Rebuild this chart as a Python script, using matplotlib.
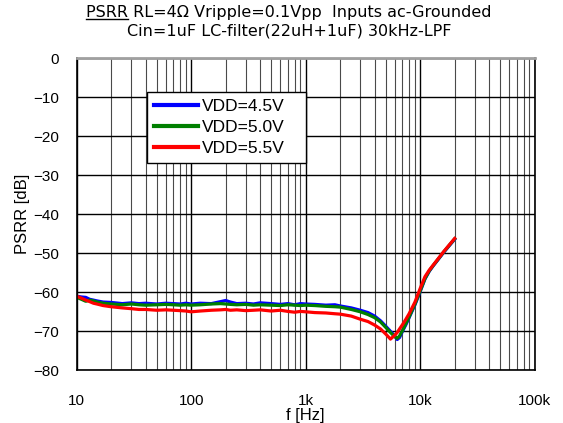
import numpy as np
import matplotlib
matplotlib.use("Agg")
import matplotlib.pyplot as plt
from matplotlib.ticker import FixedLocator, FixedFormatter, NullFormatter
from matplotlib.lines import Line2D

# ---------------- data ----------------
freq = [10, 11, 12, 13, 14, 15, 17, 20, 25, 30, 35, 40, 50, 60, 70, 80, 90, 100,
        120, 150, 180, 200, 220, 250, 300, 350, 400, 500, 600, 700, 800, 900, 1000,
        1200, 1500, 1800, 2000, 2500, 3000, 3500, 4000, 4500, 5000, 5500, 6000,
        6300, 6600, 7000, 7500, 8000, 9000, 10000, 11000, 12000, 13000, 14000,
        16000, 18000, 20000]

psrr_45 = [-61.0, -61.2, -61.3, -61.8, -62.0, -62.2, -62.5, -62.6, -62.9, -62.7, -62.9,
           -62.8, -63.0, -62.8, -62.9, -63.0, -62.8, -63.0, -62.8, -62.9, -62.4, -62.1,
           -62.5, -62.9, -62.8, -63.0, -62.7, -62.9, -63.1, -62.9, -63.2, -62.9, -63.0,
           -63.1, -63.3, -63.2, -63.5, -64.0, -64.6, -65.2, -66.1, -67.3, -68.7, -70.0,
           -71.2, -72.1, -71.6, -70.0, -68.3, -66.5, -63.2, -59.8, -56.6, -54.6, -53.2,
           -52.0, -49.8, -48.0, -46.4]

psrr_50 = [-61.3, -61.8, -62.3, -62.0, -62.2, -62.5, -62.8, -63.0, -63.2, -63.0, -63.2,
           -63.3, -63.2, -63.1, -63.2, -63.3, -63.2, -63.3, -63.2, -63.0, -62.9, -63.0,
           -63.1, -63.2, -63.1, -63.3, -63.2, -63.3, -63.4, -63.2, -63.3, -63.4, -63.3,
           -63.4, -63.6, -63.7, -63.8, -64.4, -65.0, -65.7, -66.5, -67.6, -69.0, -70.3,
           -71.4, -71.8, -71.2, -69.8, -68.0, -66.3, -63.0, -59.6, -56.5, -54.5, -53.1,
           -51.9, -49.7, -47.9, -46.3]

psrr_55 = [-61.0, -61.5, -62.0, -62.4, -62.8, -63.0, -63.4, -63.7, -64.0, -64.2, -64.4,
           -64.4, -64.6, -64.5, -64.6, -64.7, -64.8, -65.0, -64.8, -64.6, -64.5, -64.4,
           -64.6, -64.5, -64.7, -64.6, -64.5, -64.8, -64.6, -64.9, -65.1, -64.9, -65.0,
           -65.2, -65.3, -65.5, -65.6, -66.1, -66.9, -67.5, -68.4, -69.4, -70.7, -72.0,
           -71.0, -70.3, -69.4, -68.3, -66.9, -65.5, -62.5, -59.0, -56.0, -54.3, -53.0,
           -51.8, -49.6, -47.8, -46.2]

series_labels = ["VDD=4.5V", "VDD=5.0V", "VDD=5.5V"]
series_colors = ["#0000FF", "#008000", "#FF0000"]

x_major = [10, 100, 1000, 10000, 100000]
x_major_labels = ["10", "100", "1k", "10k", "100k"]
y_ticks = [0, -10, -20, -30, -40, -50, -60, -70, -80]
y_tick_labels = ["0", "\u221210", "\u221220", "\u221230", "\u221240", "\u221250",
                 "\u221260", "\u221270", "\u221280"]

title_line1 = "PSRR RL=4\u03a9 Vripple=0.1Vpp  Inputs ac-Grounded"
title_underlined = "PSRR"
title_line2 = "Cin=1uF LC-filter(22uH+1uF) 30kHz-LPF"

# ---------------- figure ----------------
plt.rcParams['font.family'] = ['Liberation Sans', 'DejaVu Sans']
W, H = 563, 423
fig = plt.figure(figsize=(W / 100, H / 100), dpi=100)
ax = fig.add_axes([76.7 / W, 1 - 370.3 / H, (534.7 - 76.7) / W, (370.3 - 58.3) / H])

ax.set_xscale('log')
ax.set_xlim(10, 100000)
ax.set_ylim(-80, 0)

minor = [m * 10 ** d for d in range(1, 5) for m in range(2, 10)]
ax.xaxis.set_major_locator(FixedLocator(x_major))
ax.xaxis.set_major_formatter(FixedFormatter(x_major_labels))
ax.xaxis.set_minor_locator(FixedLocator(minor))
ax.xaxis.set_minor_formatter(NullFormatter())
ax.yaxis.set_major_locator(FixedLocator(y_ticks))
ax.yaxis.set_major_formatter(FixedFormatter(y_tick_labels))

ax.grid(True, which='major', axis='both', color='black', linewidth=1.0)
ax.grid(True, which='minor', axis='x', color='#4a4a4a', linewidth=0.8)
ax.tick_params(axis='both', which='both', length=0, labelsize=11, pad=13)
ax.tick_params(axis='x', pad=17)

for sp in ['left', 'bottom', 'right']:
    ax.spines[sp].set_color('black')
    ax.spines[sp].set_linewidth(1.2)
ax.spines['top'].set_color('#a0a0a0')
ax.spines['top'].set_linewidth(2.0)

for vals, lab, col in zip([psrr_45, psrr_50, psrr_55], series_labels, series_colors):
    ax.plot(freq, vals, color=col, linewidth=2.3, label=lab, solid_joinstyle='round')

leg = ax.legend(loc='upper left', bbox_to_anchor=(0.154, 0.663, 0.346, 0.228),
                mode='expand', borderaxespad=0, fontsize=12.5, frameon=True,
                fancybox=False, edgecolor='black', framealpha=1.0,
                handlelength=2.5, handletextpad=0.25, borderpad=0.4,
                labelspacing=0.33)
leg.get_frame().set_linewidth(1.0)
for l in leg.get_lines():
    l.set_linewidth(3.0)

ax.set_xlabel("f [Hz]", fontsize=12, labelpad=0)
ax.set_ylabel("PSRR [dB]", fontsize=12, labelpad=2)

# ---------------- title with underlined "PSRR" ----------------
tx = 289 / W
t1 = fig.text(tx, 1 - 17.5 / H, title_line1, ha='center', va='baseline', fontsize=11.5,
              family=['DejaVu Sans'])
t2 = fig.text(tx, 1 - 35.5 / H, title_line2, ha='center', va='baseline', fontsize=11.5,
              family=['DejaVu Sans'])
renderer = fig.canvas.get_renderer()
bb = t1.get_window_extent(renderer)
tmp = fig.text(0, 0, title_underlined, fontsize=11.5, family=['DejaVu Sans'])
wb = tmp.get_window_extent(renderer)
tmp.remove()
uy = 1 - 19.5 / H
fig.add_artist(Line2D([bb.x0 / W, (bb.x0 + wb.width) / W], [uy, uy],
                      transform=fig.transFigure, color='black', linewidth=1.0))

fig.savefig("out.png", dpi=100)
